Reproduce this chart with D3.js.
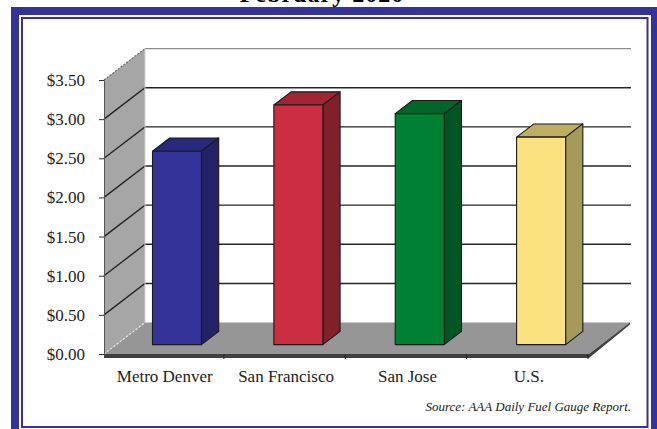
<!DOCTYPE html>
<html lang="en">
<head>
<meta charset="UTF-8">
<title>Gasoline prices, February 2020</title>
<style>
html, body { margin: 0; padding: 0; background: #fff; overflow: hidden; }
svg { display: block; font-family: 'Liberation Serif', serif; }
</style>
<script src="https://cdn.jsdelivr.net/npm/d3@7"></script>
</head>
<body>
<svg></svg>
<script>
const categories = ["Metro Denver", "San Francisco", "San Jose", "U.S."];
const prices = [2.47, 3.06, 2.95, 2.65];
const tickValues = [0, 0.5, 1, 1.5, 2, 2.5, 3, 3.5];
const frontColors = ["#333399", "#CC2D41", "#008033", "#F9E27F"];
const sideColors = ["#222266", "#81202A", "#005522", "#A69A5A"];
const topColors = ["#28287F", "#A32533", "#006629", "#BDAE62"];

const svg = d3.select("svg").attr("width", 657).attr("height", 429);
const blue = "#333399";

// frame: thick band, white gap, thin line
svg.append("rect").attr("x", 11).attr("y", 7).attr("width", 660).attr("height", 440).attr("fill", blue);
svg.append("rect").attr("x", 19).attr("y", 15).attr("width", 632).attr("height", 450).attr("fill", "#fff");
svg.append("rect").attr("x", 22).attr("y", 18).attr("width", 625.5).attr("height", 409)
    .attr("fill", "#fff").attr("stroke", blue).attr("stroke-width", 2);

svg.append("text").attr("x", 322).attr("y", 2).attr("text-anchor", "middle")
    .attr("font-size", 24).attr("font-weight", "bold").attr("letter-spacing", 1).text("February 2020");

const x = d3.scaleBand().domain(categories).range([104, 589.5]);
const y = d3.scaleLinear().domain([0, 3.5]).range([354, 80]);

// depth of the 3d box, bars sit from zNear to zFar inside it
const depthX = 41, depthY = 31.4;
const zNear = 0.3, zFar = 0.72;
const px = (v, z) => v + depthX * z;
const py = (v, z) => y(v) - depthY * z;
const line = d3.line();

// side wall
svg.append("path")
    .attr("d", line([[104, y(3.5)], [px(104, 1), py(3.5, 1)], [px(104, 1), py(0, 1)], [104, y(0)]]) + "Z")
    .attr("fill", "#a6a6a6");

// floor
svg.append("path")
    .attr("d", line([[104, y(0)], [px(104, 1), py(0, 1)], [px(589, 1), py(0, 1)], [589, y(0)]]) + "Z")
    .attr("fill", "#969696");

// floor thickness
svg.append("path")
    .attr("d", line([[104, y(0)], [589, y(0)], [px(589, 1), py(0, 1)], [px(589, 1), py(0, 1) + 2], [589, y(0) + 4], [104, y(0) + 4]]) + "Z")
    .attr("fill", "#404040");

// gridlines on back and side wall
const grid = svg.append("g").selectAll("path").data(tickValues.slice(1)).join("path")
    .attr("d", d => line([[104, y(d)], [px(104, 1), py(d, 1)], [631, py(d, 1)]]))
    .attr("fill", "none")
    .attr("stroke", d => d === 3.5 ? "#8c8c8c" : "#262626")
    .attr("stroke-width", 1.4);
grid.filter(d => d === 3.5).attr("d", d => line([[px(104, 1), py(d, 1)], [631, py(d, 1)]]));

// dashed top and bottom edge of the wall
svg.append("path").attr("d", line([[104, y(3.5)], [px(104, 1), py(3.5, 1)]]))
    .attr("stroke", "#666").attr("stroke-width", 1.2).attr("stroke-dasharray", "2,1.5");
svg.append("path").attr("d", line([[104, y(0)], [px(104, 1), py(0, 1)]]))
    .attr("stroke", "#e8e8e8").attr("stroke-width", 1.2).attr("stroke-dasharray", "2,2");
svg.append("line").attr("x1", px(104, 1)).attr("x2", px(104, 1)).attr("y1", py(3.5, 1)).attr("y2", py(0, 1))
    .attr("stroke", "#d4d4d4").attr("stroke-width", 1);

// bars
const barW = 49;
const bars = svg.append("g").selectAll("g").data(categories).join("g");
const left = d => x(d) + (x.bandwidth() - barW) / 2;
const val = (d, i) => prices[i];

bars.append("path")
    .attr("fill", (d, i) => topColors[i])
    .attr("d", (d, i) => line([
        [px(left(d), zNear), py(val(d, i), zNear) ],
        [px(left(d), zFar), py(val(d, i), zFar)],
        [px(left(d) + barW, zFar), py(val(d, i), zFar)],
        [px(left(d) + barW, zNear), py(val(d, i), zNear)]
    ]) + "Z");
bars.append("path")
    .attr("fill", (d, i) => sideColors[i])
    .attr("d", (d, i) => line([
        [px(left(d) + barW, zNear), py(val(d, i), zNear)],
        [px(left(d) + barW, zFar), py(val(d, i), zFar)],
        [px(left(d) + barW, zFar), py(0, zFar)],
        [px(left(d) + barW, zNear), py(0, zNear)]
    ]) + "Z");
bars.append("path")
    .attr("fill", (d, i) => frontColors[i])
    .attr("d", (d, i) => line([
        [px(left(d), zNear), py(val(d, i), zNear)],
        [px(left(d) + barW, zNear), py(val(d, i), zNear)],
        [px(left(d) + barW, zNear), py(0, zNear)],
        [px(left(d), zNear), py(0, zNear)]
    ]) + "Z");
bars.selectAll("path").attr("stroke", "#1a1a1a").attr("stroke-width", 1.1).attr("stroke-linejoin", "round");

// axes
const yAxis = svg.append("g").attr("transform", "translate(104,0)")
    .call(d3.axisLeft(y).tickValues(tickValues).tickFormat(d3.format("$.2f")).tickSize(5).tickPadding(14));
yAxis.select(".domain").attr("stroke", "#555").attr("stroke-width", 1);
yAxis.selectAll("line").attr("stroke", "#333");
yAxis.selectAll("text").attr("font-family", "'Liberation Serif', serif").attr("font-size", 17).attr("fill", "#222");

const xAxis = svg.append("g").attr("transform", "translate(0,354)")
    .call(d3.axisBottom(x).tickSize(0).tickPadding(16));
xAxis.select(".domain").remove();
xAxis.selectAll("text").attr("font-family", "'Liberation Serif', serif").attr("font-size", 17).attr("fill", "#222");

// ticks between the categories on the front edge
svg.append("g").selectAll("line").data(categories).join("line")
    .attr("x1", d => x(d) + x.bandwidth() - 1.5).attr("x2", d => x(d) + x.bandwidth() - 1.5)
    .attr("y1", y(0)).attr("y2", y(0) + 5)
    .attr("stroke", "#222");

svg.append("text").attr("x", 631).attr("y", 411).attr("text-anchor", "end")
    .attr("font-size", 13).attr("font-style", "italic").attr("fill", "#222")
    .text("Source: AAA Daily Fuel Gauge Report.");
</script>
</body>
</html>
